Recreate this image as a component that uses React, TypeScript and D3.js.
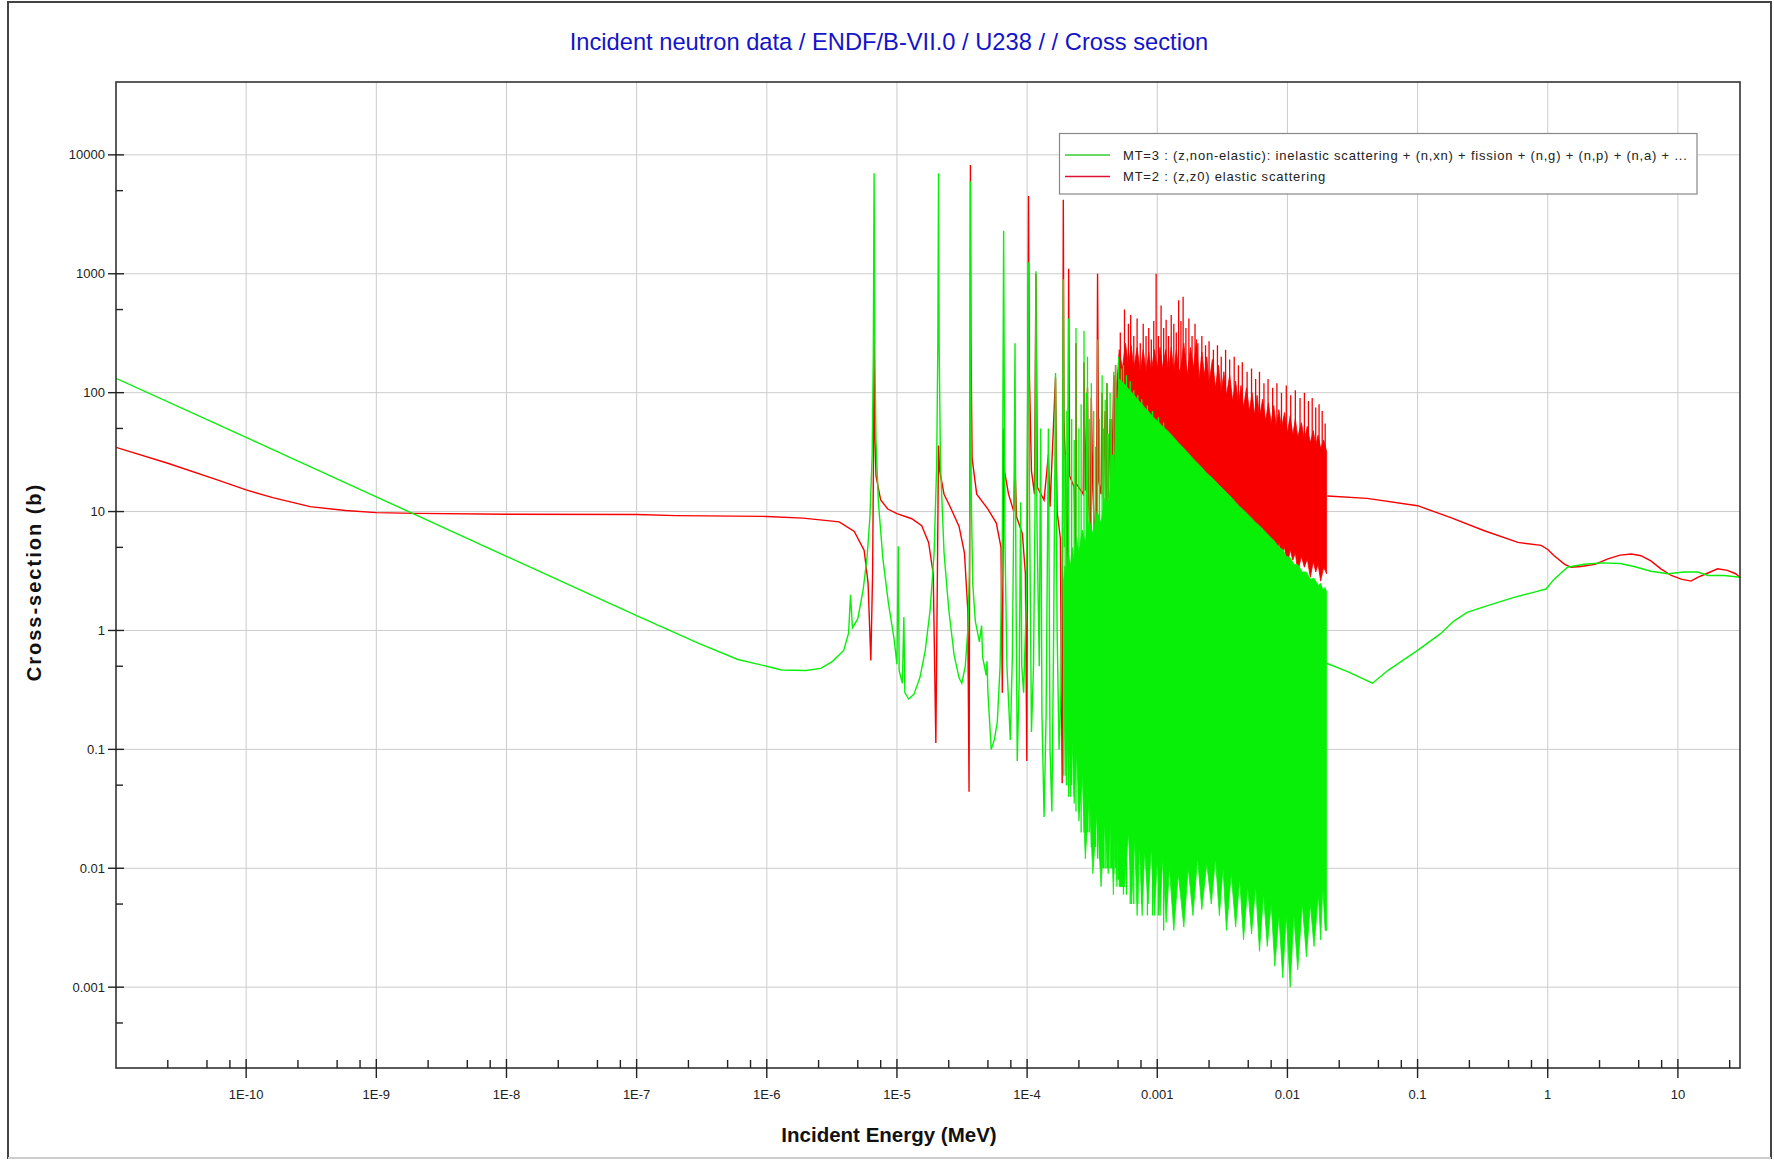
import React from 'react';
import * as d3 from 'd3';

const W = 1774;
const H = 1163;
const PL = 116, PR = 1740, PT = 82, PB = 1068;

const titleText = 'Incident neutron data / ENDF/B-VII.0 / U238 / / Cross section';
const xTitle = 'Incident Energy (MeV)';
const yTitle = 'Cross-section (b)';
const legendLabels = [
  'MT=3 : (z,non-elastic): inelastic scattering + (n,xn) + fission + (n,g) + (n,p) + (n,a) + ...',
  'MT=2 : (z,z0) elastic scattering',
];

const xDomain: [number, number] = [1e-11, 30];
const yDomain: [number, number] = [2.09e-4, 4.1e4];

const xMajorTicks = [1e-10, 1e-9, 1e-8, 1e-7, 1e-6, 1e-5, 1e-4, 1e-3, 1e-2, 1e-1, 1, 10];
const xTickLabels = ['1E-10', '1E-9', '1E-8', '1E-7', '1E-6', '1E-5', '1E-4', '0.001', '0.01', '0.1', '1', '10'];
const xMinorMultipliers = [2.5, 5, 7.5];
const yMajorTicks = [0.001, 0.01, 0.1, 1, 10, 100, 1000, 10000];
const yTickLabels = ['0.001', '0.01', '0.1', '1', '10', '100', '1000', '10000'];
const yMinorTicks = [5e-4, 5e-3, 0.05, 0.5, 5, 50, 500, 5000];

// ---------- MT=3 (non-elastic) ----------
const mt3Resolved: [number, number][] = [
  [1e-11, 132], [1e-10, 42], [1e-9, 13.3], [1e-8, 4.2], [1e-7, 1.33], [3e-7, 0.78], [6e-7, 0.57],
  [1e-6, 0.5], [1.3e-6, 0.465], [2.0e-6, 0.46], [2.6e-6, 0.48], [3.2e-6, 0.55], [3.9e-6, 0.68],
  [4.25e-6, 0.95], [4.4e-6, 2.0], [4.55e-6, 1.05], [5.0e-6, 1.25], [5.5e-6, 2.2], [5.9e-6, 4.2],
  [6.2e-6, 9], [6.45e-6, 30], [6.58e-6, 200], [6.674e-6, 7000], [6.77e-6, 200], [6.9e-6, 40],
  [7.2e-6, 12], [7.8e-6, 4], [8.6e-6, 1.7], [9.5e-6, 0.85], [1.0e-5, 0.52], [1.024e-5, 5.1],
  [1.04e-5, 0.46], [1.1e-5, 0.36], [1.13e-5, 1.3], [1.15e-5, 0.3], [1.23e-5, 0.265], [1.35e-5, 0.29],
  [1.5e-5, 0.4], [1.65e-5, 0.68], [1.8e-5, 1.5], [1.93e-5, 4.5], [2.02e-5, 25], [2.06e-5, 250],
  [2.087e-5, 7000], [2.11e-5, 250], [2.16e-5, 25], [2.3e-5, 4.5], [2.5e-5, 1.5], [2.75e-5, 0.62],
  [3.0e-5, 0.4], [3.15e-5, 0.36], [3.35e-5, 0.5], [3.5e-5, 1.0], [3.6e-5, 3], [3.64e-5, 15],
  [3.66e-5, 300], [3.668e-5, 6000], [3.68e-5, 300], [3.72e-5, 15], [3.82e-5, 2.5], [4.0e-5, 1.2],
  [4.3e-5, 0.8], [4.47e-5, 1.1], [4.55e-5, 0.6], [4.85e-5, 0.42], [4.92e-5, 0.55], [5.0e-5, 0.3],
  [5.3e-5, 0.1], [5.6e-5, 0.12], [5.9e-5, 0.17], [6.2e-5, 0.5], [6.45e-5, 6], [6.603e-5, 2300],
  [6.75e-5, 6], [7.0e-5, 0.5], [7.43e-5, 0.12], [7.7e-5, 0.6], [7.95e-5, 20], [8.074e-5, 260],
  [8.2e-5, 3], [8.4e-5, 0.08], [8.7e-5, 0.4], [8.92e-5, 12], [9.1e-5, 0.5], [9.4e-5, 0.3],
  [9.9e-5, 2], [1.0e-4, 20], [1.025e-4, 1250], [1.045e-4, 10], [1.08e-4, 0.14], [1.12e-4, 0.5],
  [1.15e-4, 10], [1.169e-4, 1050], [1.19e-4, 8], [1.24e-4, 0.5], [1.27e-4, 50], [1.3e-4, 0.2],
  [1.35e-4, 0.027], [1.4e-4, 0.2], [1.457e-4, 50], [1.5e-4, 0.1], [1.55e-4, 0.03], [1.6e-4, 1],
  [1.653e-4, 146], [1.7e-4, 1], [1.76e-4, 0.1], [1.82e-4, 0.3], [1.87e-4, 10], [1.897e-4, 900],
  [1.93e-4, 5],
];

// [E, low, high] unresolved band (dense resonances rendered as a filled band)
const mt3Band: [number, number, number][] = [
  [1.9e-4, 0.06, 2.5], [1.95e-4, 0.2, 3.5], [2.0e-4, 0.05, 3], [2.07e-4, 0.15, 4.5], [2.15e-4, 0.04, 3.5],
  [2.22e-4, 0.12, 5], [2.3e-4, 0.035, 4], [2.4e-4, 0.1, 6], [2.5e-4, 0.025, 4.5], [2.65e-4, 0.06, 7],
  [2.8e-4, 0.012, 5.5], [3.0e-4, 0.04, 8.5], [3.2e-4, 0.009, 6.5], [3.45e-4, 0.03, 10], [3.7e-4, 0.007, 8],
  [3.95e-4, 0.025, 13], [4.2e-4, 0.009, 11], [4.4e-4, 0.03, 18], [4.6e-4, 0.006, 16], [4.75e-4, 0.02, 35],
  [4.9e-4, 0.007, 60], [5.0e-4, 0.02, 100], [5.1e-4, 0.007, 130], [5.6e-4, 0.007, 118], [6.0e-4, 0.02, 108], [6.35e-4, 0.005, 101],
  [6.7e-4, 0.018, 94], [7.0e-4, 0.004, 89], [7.3e-4, 0.015, 84], [7.65e-4, 0.004, 80], [8.0e-4, 0.014, 75],
  [8.5e-4, 0.005, 70], [9.0e-4, 0.015, 65], [9.5e-4, 0.004, 61], [1.0e-3, 0.012, 58], [1.05e-3, 0.004, 55],
  [1.1e-3, 0.012, 52], [1.17e-3, 0.0035, 49], [1.24e-3, 0.01, 46], [1.34e-3, 0.003, 42], [1.45e-3, 0.009, 38],
  [1.6e-3, 0.0032, 34], [1.73e-3, 0.01, 31], [1.88e-3, 0.004, 28], [2.04e-3, 0.012, 25.5], [2.2e-3, 0.0045, 23.5],
  [2.4e-3, 0.011, 21], [2.6e-3, 0.005, 19.5], [2.8e-3, 0.012, 18], [3.0e-3, 0.004, 16.6], [3.2e-3, 0.01, 15.5],
  [3.4e-3, 0.003, 14.5], [3.7e-3, 0.009, 13.2], [4.0e-3, 0.0032, 12], [4.3e-3, 0.008, 11], [4.6e-3, 0.0025, 10.3],
  [4.95e-3, 0.007, 9.5], [5.3e-3, 0.0028, 8.8], [5.7e-3, 0.007, 8.1], [6.1e-3, 0.002, 7.6], [6.55e-3, 0.006, 7.0],
  [7.0e-3, 0.0022, 6.5], [7.5e-3, 0.005, 6.0], [8.0e-3, 0.0015, 5.6], [8.6e-3, 0.004, 5.0], [9.2e-3, 0.0012, 4.8],
  [9.8e-3, 0.004, 4.2], [1.05e-2, 0.001, 4.1], [1.12e-2, 0.004, 3.6], [1.2e-2, 0.0014, 3.6], [1.3e-2, 0.005, 3.1],
  [1.4e-2, 0.0018, 3.1], [1.5e-2, 0.005, 2.7], [1.6e-2, 0.0022, 2.75], [1.73e-2, 0.006, 2.4], [1.8e-2, 0.0025, 2.5],
  [1.87e-2, 0.007, 2.2], [1.95e-2, 0.003, 2.3], [2.0e-2, 0.003, 2.1],
];

// [E, low, high] individual resonance spikes standing out of the band
const mt3Spikes: [number, number, number][] = [
  [1.96e-4, 0.06, 30], [2.02e-4, 0.05, 70], [2.085e-4, 0.04, 420], [2.2e-4, 0.05, 60], [2.3e-4, 0.04, 40],
  [2.374e-4, 0.03, 350], [2.5e-4, 0.03, 50], [2.6e-4, 0.02, 80], [2.737e-4, 0.02, 330], [2.85e-4, 0.02, 100],
  [2.91e-4, 0.02, 200], [3.0e-4, 0.02, 60], [3.114e-4, 0.015, 120], [3.25e-4, 0.015, 70], [3.36e-4, 0.015, 35],
  [3.478e-4, 0.012, 280], [3.6e-4, 0.012, 60], [3.769e-4, 0.01, 140], [3.87e-4, 0.01, 50], [3.98e-4, 0.01, 87],
  [4.103e-4, 0.01, 120], [4.2e-4, 0.01, 45], [4.341e-4, 0.01, 100], [4.45e-4, 0.01, 60], [4.55e-4, 0.01, 30],
  [4.634e-4, 0.009, 150], [4.783e-4, 0.01, 170], [4.9e-4, 0.008, 90], [5.05e-4, 0.008, 200], [5.3e-4, 0.007, 160],
  [5.5e-4, 0.006, 170], [5.8e-4, 0.006, 140], [6.2e-4, 0.005, 125], [6.6e-4, 0.005, 105], [7.1e-4, 0.005, 95],
  [7.6e-4, 0.005, 88], [8.4e-4, 0.004, 78], [9.2e-4, 0.004, 70], [1.02e-3, 0.004, 62], [1.12e-3, 0.003, 56],
];

const mt3Fast: [number, number][] = [
  [0.02, 0.53], [0.029, 0.45], [0.045, 0.36], [0.059, 0.46], [0.1, 0.68], [0.15, 0.94], [0.19, 1.2],
  [0.24, 1.42], [0.345, 1.62], [0.55, 1.9], [0.79, 2.1], [0.97, 2.23], [1.12, 2.7], [1.42, 3.4],
  [1.9, 3.6], [2.6, 3.7], [3.6, 3.66], [4.6, 3.45], [6.2, 3.15], [8.4, 3.0], [11.2, 3.1], [14.2, 3.1],
  [17, 2.9], [22.7, 2.9], [30, 2.8],
];

// ---------- MT=2 (elastic) ----------
const mt2Resolved: [number, number][] = [
  [1e-11, 34.7], [2.5e-11, 25.5], [6e-11, 18.5], [1e-10, 15.2], [1.6e-10, 13.1], [3.1e-10, 11],
  [5.8e-10, 10.2], [1e-9, 9.8], [2e-9, 9.65], [1e-8, 9.5], [1e-7, 9.45], [2e-7, 9.25], [1e-6, 9.1],
  [1.9e-6, 8.8], [3.6e-6, 8.2], [4.7e-6, 6.8], [5.6e-6, 4.7], [6.0e-6, 2.5], [6.3e-6, 0.56], [6.5e-6, 3],
  [6.62e-6, 40], [6.674e-6, 280], [6.73e-6, 60], [6.9e-6, 20], [7.5e-6, 12.5], [8.5e-6, 10.5],
  [1e-5, 9.6], [1.3e-5, 8.7], [1.55e-5, 7.6], [1.75e-5, 5.5], [1.9e-5, 3.0], [1.99e-5, 0.113],
  [2.05e-5, 4], [2.087e-5, 36], [2.13e-5, 22], [2.3e-5, 14], [2.6e-5, 10.6], [3.0e-5, 7.5],
  [3.3e-5, 4.5], [3.5e-5, 1.5], [3.58e-5, 0.044], [3.64e-5, 40], [3.668e-5, 8200], [3.7e-5, 300],
  [3.78e-5, 28], [4.1e-5, 14], [5e-5, 10.5], [5.8e-5, 8], [6.3e-5, 5], [6.45e-5, 0.3], [6.55e-5, 8],
  [6.603e-5, 50], [6.7e-5, 22], [7.2e-5, 14], [7.9e-5, 10], [8.074e-5, 25], [8.3e-5, 9], [9.2e-5, 6.5],
  [9.7e-5, 3], [9.95e-5, 0.08], [1.01e-4, 30], [1.025e-4, 4500], [1.04e-4, 150], [1.08e-4, 22],
  [1.14e-4, 14], [1.169e-4, 1000], [1.2e-4, 16], [1.35e-4, 12.5], [1.457e-4, 30], [1.5e-4, 11],
  [1.653e-4, 134], [1.7e-4, 10], [1.8e-4, 6], [1.86e-4, 0.052], [1.88e-4, 50], [1.897e-4, 4200],
  [1.92e-4, 60], [1.97e-4, 25], [2.05e-4, 2], [2.085e-4, 1100], [2.12e-4, 20], [2.3e-4, 16], [2.36e-4, 4],
  [2.374e-4, 260], [2.4e-4, 17], [2.7e-4, 14], [2.737e-4, 180], [2.8e-4, 15], [2.91e-4, 110], [2.96e-4, 14],
  [3.05e-4, 6], [3.114e-4, 90], [3.2e-4, 15], [3.4e-4, 3], [3.478e-4, 1000], [3.55e-4, 18], [3.7e-4, 14],
  [3.769e-4, 100], [3.85e-4, 13], [3.98e-4, 70], [4.05e-4, 12], [4.103e-4, 120], [4.2e-4, 13],
  [4.341e-4, 60], [4.45e-4, 12], [4.634e-4, 140], [4.72e-4, 13], [4.783e-4, 170], [4.9e-4, 12],
];

const mt2Band: [number, number, number][] = [
  [4.9e-4, 14, 120], [5.1e-4, 11, 230], [5.4e-4, 15, 160], [5.7e-4, 12, 260], [6.0e-4, 14, 170],
  [6.3e-4, 11, 250], [6.6e-4, 15, 160], [7.0e-4, 12, 240], [7.4e-4, 14, 150], [7.8e-4, 11, 230],
  [8.2e-4, 15, 150], [8.6e-4, 12, 220], [9.0e-4, 14, 150], [9.5e-4, 11, 230], [1.0e-3, 15, 160],
  [1.05e-3, 12, 240], [1.1e-3, 14, 160], [1.16e-3, 12, 230], [1.22e-3, 15, 150], [1.28e-3, 12, 240],
  [1.34e-3, 14, 150], [1.4e-3, 12, 230], [1.46e-3, 16, 160],
  [1.5e-3, 16, 150], [1.6e-3, 22, 260], [1.7e-3, 12, 140], [1.8e-3, 20, 240], [1.9e-3, 17, 160],
  [2.0e-3, 24, 280], [2.1e-3, 11, 130], [2.2e-3, 19, 220], [2.3e-3, 15, 140], [2.4e-3, 20, 200],
  [2.5e-3, 12, 120], [2.65e-3, 17, 190], [2.8e-3, 13, 110], [2.95e-3, 16, 170], [3.1e-3, 9, 100],
  [3.25e-3, 14, 150], [3.4e-3, 10.5, 95], [3.6e-3, 13, 140], [3.8e-3, 8, 85], [4.0e-3, 12, 125],
  [4.2e-3, 9, 80], [4.4e-3, 11, 115], [4.6e-3, 7, 75], [4.85e-3, 10, 110], [5.1e-3, 7.5, 70],
  [5.35e-3, 9, 100], [5.6e-3, 5.5, 65], [5.85e-3, 8, 95], [6.1e-3, 6, 62], [6.45e-3, 7.5, 88],
  [6.8e-3, 4.6, 58], [7.15e-3, 6.5, 82], [7.5e-3, 5, 55], [7.85e-3, 6, 78], [8.2e-3, 4.2, 52],
  [8.6e-3, 5.5, 72], [9e-3, 4.4, 50], [9.5e-3, 5, 68], [1e-2, 3.5, 46], [1.05e-2, 4.8, 64],
  [1.1e-2, 3.9, 44], [1.15e-2, 4.5, 60], [1.2e-2, 3.1, 42], [1.28e-2, 4.2, 56], [1.35e-2, 3.4, 40],
  [1.42e-2, 4, 52], [1.5e-2, 2.8, 38], [1.58e-2, 3.8, 48], [1.65e-2, 3.1, 36], [1.72e-2, 3.6, 44],
  [1.8e-2, 2.6, 34], [1.9e-2, 3.4, 40], [2e-2, 3.0, 32],
];

const mt2Spikes: [number, number, number][] = [
  [5.2e-4, 20, 320], [5.6e-4, 20, 500], [6.0e-4, 20, 380], [6.25e-4, 20, 450], [6.6e-4, 20, 300],
  [7.0e-4, 20, 420], [7.4e-4, 20, 260], [7.8e-4, 20, 380], [8.2e-4, 20, 300], [8.6e-4, 20, 350],
  [9.0e-4, 20, 280], [9.4e-4, 20, 400], [9.8e-4, 20, 1000], [1.02e-3, 20, 300], [1.07e-3, 20, 540],
  [1.12e-3, 20, 350], [1.17e-3, 20, 410], [1.22e-3, 20, 300], [1.28e-3, 20, 450], [1.34e-3, 20, 380],
  [1.4e-3, 20, 320], [1.46e-3, 20, 600], [1.52e-3, 20, 400], [1.58e-3, 20, 640], [1.66e-3, 20, 350],
  [1.75e-3, 20, 420], [1.85e-3, 20, 300], [1.95e-3, 20, 380], [2.05e-3, 20, 260], [2.2e-3, 20, 300],
  [2.35e-3, 20, 250], [2.5e-3, 20, 270], [2.7e-3, 20, 230], [2.9e-3, 20, 250], [3.1e-3, 20, 200],
  [3.35e-3, 20, 230], [3.6e-3, 20, 190], [3.9e-3, 20, 200], [4.2e-3, 20, 170], [4.5e-3, 20, 180],
  [4.9e-3, 20, 150], [5.3e-3, 20, 160], [5.7e-3, 20, 130], [6.1e-3, 20, 150], [6.6e-3, 20, 120],
  [7.1e-3, 20, 130], [7.7e-3, 20, 110], [8.3e-3, 20, 120], [9e-3, 20, 100], [9.8e-3, 20, 115],
  [1.06e-2, 20, 95], [1.15e-2, 20, 105], [1.25e-2, 20, 90], [1.35e-2, 20, 100], [1.45e-2, 20, 85],
  [1.55e-2, 20, 90], [1.65e-2, 20, 75], [1.75e-2, 20, 80], [1.85e-2, 20, 70], [1.95e-2, 20, 55],
];

const mt2Fast: [number, number][] = [
  [0.0203, 13.5], [0.041, 12.9], [0.1, 11.2], [0.18, 8.9], [0.326, 6.9], [0.59, 5.5], [0.89, 5.2],
  [1.0, 4.8], [1.12, 4.25], [1.35, 3.6], [1.52, 3.4], [1.8, 3.45], [2.3, 3.6], [2.9, 4.0], [3.6, 4.3],
  [4.4, 4.4], [5.2, 4.25], [6.2, 3.85], [7.4, 3.3], [8.9, 2.9], [10.6, 2.7], [12.6, 2.6], [14.2, 2.8],
  [16.5, 3.0], [20.2, 3.3], [24, 3.2], [27.8, 3.0], [30, 2.8],
];

const GREEN = '#08f008';
const RED = '#f80000';
const FONT = "'Liberation Sans', Arial, sans-serif";

export default function App() {
  const x = d3.scaleLog().domain(xDomain).range([PL, PR]);
  const y = d3.scaleLog().domain(yDomain).range([PB, PT]);

  const line = d3.line<[number, number]>().x(d => x(d[0])).y(d => y(d[1]));
  const area = d3.area<[number, number, number]>().x(d => x(d[0])).y0(d => y(d[1])).y1(d => y(d[2]));
  const spikes = (arr: [number, number, number][]) =>
    arr.map(d => `M${x(d[0]).toFixed(2)},${y(d[1]).toFixed(2)}V${y(d[2]).toFixed(2)}`).join('');

  const xMinor: number[] = [];
  for (let k = -11; k <= 1; k++) {
    xMinorMultipliers.forEach(m => {
      const v = m * Math.pow(10, k);
      if (v > xDomain[0] && v < xDomain[1]) xMinor.push(v);
    });
  }

  return (
    <div style={{ position: 'absolute', left: 0, top: 0, width: W, height: H, background: '#fff' }}>
      <svg width={W} height={H} style={{ display: 'block' }} fontFamily={FONT}>
        <rect x={0} y={0} width={W} height={H} fill="#fff" />
        <rect x={8} y={2} width={1763} height={1156} fill="none" stroke="#444" strokeWidth={2} />
        <line x1={8} x2={1771} y1={1158} y2={1158} stroke="#ccc" strokeWidth={2} />

        <text x={889} y={50} textAnchor="middle" fontSize={23.7} fill="#1414c8">{titleText}</text>

        <defs>
          <clipPath id="plotclip">
            <rect x={PL} y={PT} width={PR - PL} height={PB - PT} />
          </clipPath>
        </defs>

        {/* grid */}
        <g stroke="#cccccc" strokeWidth={1}>
          {xMajorTicks.map((t, i) => (
            <line key={'gx' + i} x1={x(t)} x2={x(t)} y1={PT} y2={PB} />
          ))}
          {yMajorTicks.map((t, i) => (
            <line key={'gy' + i} x1={PL} x2={PR} y1={y(t)} y2={y(t)} />
          ))}
        </g>

        <g clipPath="url(#plotclip)" fill="none">
          {/* MT=2 (drawn beneath) */}
          <path d={area(mt2Band) || ''} fill={RED} stroke={RED} strokeWidth={0.8} />
          <path d={spikes(mt2Spikes)} stroke={RED} strokeWidth={1.3} />
          <path d={line(mt2Resolved) || ''} stroke={RED} strokeWidth={1.4} />
          <path d={line(mt2Fast) || ''} stroke={RED} strokeWidth={1.4} />
          {/* MT=3 */}
          <path d={area(mt3Band) || ''} fill={GREEN} stroke={GREEN} strokeWidth={0.8} />
          <path d={spikes(mt3Spikes)} stroke={GREEN} strokeWidth={1.3} />
          <path d={line(mt3Resolved) || ''} stroke={GREEN} strokeWidth={1.4} />
          <path d={line(mt3Fast) || ''} stroke={GREEN} strokeWidth={1.4} />
        </g>

        {/* frame */}
        <rect x={PL} y={PT} width={PR - PL} height={PB - PT} fill="none" stroke="#333" strokeWidth={1.6} />

        {/* ticks */}
        <g stroke="#222" strokeWidth={1.4}>
          {yMajorTicks.map((t, i) => (
            <line key={'yt' + i} x1={PL - 8} x2={PL + 8} y1={y(t)} y2={y(t)} />
          ))}
          {yMinorTicks.map((t, i) => (
            <line key={'ym' + i} x1={PL} x2={PL + 7} y1={y(t)} y2={y(t)} />
          ))}
          {xMajorTicks.map((t, i) => (
            <line key={'xt' + i} x1={x(t)} x2={x(t)} y1={PB - 9} y2={PB + 10} />
          ))}
          {xMinor.map((t, i) => (
            <line key={'xm' + i} x1={x(t)} x2={x(t)} y1={PB - 8} y2={PB} />
          ))}
        </g>
        <g fontSize={13} fill="#222">
          {yMajorTicks.map((t, i) => (
            <text key={'yl' + i} x={PL - 11} y={y(t) + 4.5} textAnchor="end">{yTickLabels[i]}</text>
          ))}
          {xMajorTicks.map((t, i) => (
            <text key={'xl' + i} x={x(t)} y={1099} textAnchor="middle">{xTickLabels[i]}</text>
          ))}
        </g>

        <text x={889} y={1142} textAnchor="middle" fontSize={20.5} fontWeight="bold" fill="#111">{xTitle}</text>
        <text transform="translate(41,582) rotate(-90)" textAnchor="middle" fontSize={20} fontWeight="bold"
          letterSpacing={2} fill="#111">{yTitle}</text>

        {/* legend */}
        <g>
          <rect x={1059.5} y={133.5} width={637.5} height={60.5} fill="#fff" stroke="#888" strokeWidth={1.2} />
          <line x1={1065} x2={1110} y1={155} y2={155} stroke="#33cc33" strokeWidth={1.5} />
          <line x1={1065} x2={1110} y1={176.5} y2={176.5} stroke="#dd1133" strokeWidth={1.5} />
          <text x={1123} y={159.5} fontSize={13} letterSpacing={0.8} fill="#222">{legendLabels[0]}</text>
          <text x={1123} y={181} fontSize={13} letterSpacing={0.8} fill="#222">{legendLabels[1]}</text>
        </g>
      </svg>
    </div>
  );
}
